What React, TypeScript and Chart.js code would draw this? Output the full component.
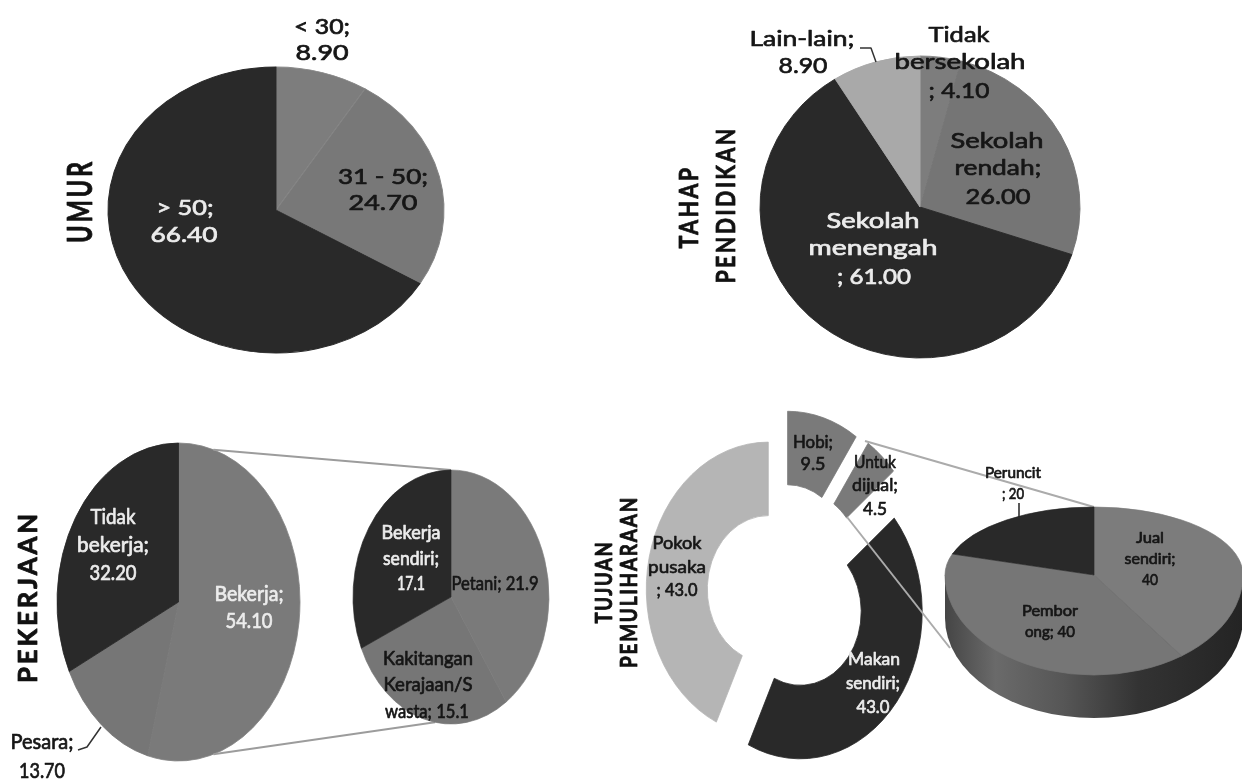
import React, { useEffect, useRef } from "react";
import { Chart, registerables } from "chart.js";

Chart.register(...registerables);

// ---- Survey values -------------------------------------------------------
const umurCategories = ["< 30", "31 - 50", "> 50"];
const umurValues = [8.9, 24.7, 66.4];

const tahapCategories = ["Tidak bersekolah", "Sekolah rendah", "Sekolah menengah", "Lain-lain"];
const tahapValues = [4.1, 26.0, 61.0, 8.9];

const pekerjaanCategories = ["Bekerja", "Pesara", "Tidak bekerja"];
const pekerjaanValues = [54.1, 13.7, 32.2];

const bekerjaCategories = ["Petani", "Kakitangan Kerajaan/Swasta", "Bekerja sendiri"];
const bekerjaValues = [21.9, 15.1, 17.1];

const tujuanCategories = ["Hobi", "Untuk dijual", "Makan sendiri", "Pokok pusaka"];
const tujuanValues = [9.5, 4.5, 43.0, 43.0];

const dijualCategories = ["Jual sendiri", "Pemborong", "Peruncit"];
const dijualValues = [40, 40, 20];

// ---- Drawing constants ---------------------------------------------------
const W = 1242;
const H = 780;
const BASE_R = 100;
const FONT = 'Lato, "Open Sans", sans-serif';
const DARK = "#292929";
const INK = "#161616";
const PALE = "#ececec";

type Row = [string, number, number, number];
type Label = { slice: number; digits: number; color: string; size: number; weight?: string; rows: Row[] };
type Title = { text: string; x: number; y: number; length: number; size: number };
type Leader = { color: string; width: number; points: number[][] };
type Panel = {
  kind: "pie" | "doughnut";
  categories: string[];
  values: number[];
  fills: string[];
  seams: string[];
  cx: number;
  cy: number;
  rx: number;
  ryTop: number;
  ryBottom: number;
  explode?: number[];
  wall?: { depth: number; stops: [number, string][] };
  labels: Label[];
  titles: Title[];
  leaders: Leader[];
};

// Point on the rim of an oval, clockwise from twelve o'clock.
const rim = (cx: number, cy: number, rx: number, ry: number, deg: number) => {
  const t = (deg * Math.PI) / 180;
  return [cx + rx * Math.sin(t), cy - ry * Math.cos(t)];
};

const panels: Panel[] = [
  {
    kind: "pie",
    categories: umurCategories,
    values: umurValues,
    fills: ["#7d7d7d", "#787878", DARK],
    seams: ["#8a8a8a", "#848484", DARK],
    cx: 276,
    cy: 210,
    rx: 168,
    ryTop: 143,
    ryBottom: 143,
    labels: [
      { slice: 0, digits: 2, color: INK, size: 21, rows: [["< 30;", 322, 27, 56], ["{v}", 322, 53, 53]] },
      { slice: 1, digits: 2, color: INK, size: 21, rows: [["31 - 50;", 383, 177, 90], ["{v}", 383, 203, 69]] },
      { slice: 2, digits: 2, color: PALE, size: 21, rows: [["> 50;", 185, 208, 57], ["{v}", 184, 235, 67]] },
    ],
    titles: [{ text: "UMUR", x: 81, y: 201, length: 84, size: 34 }],
    leaders: [],
  },
  {
    kind: "pie",
    categories: tahapCategories,
    values: tahapValues,
    fills: ["#7d7d7d", "#757575", DARK, "#a9a9a9"],
    seams: ["#8a8a8a", "#757575", DARK, "#a9a9a9"],
    cx: 920,
    cy: 207,
    rx: 160,
    ryTop: 151,
    ryBottom: 151,
    labels: [
      { slice: 0, digits: 2, color: INK, size: 22, rows: [["Tidak", 959, 35, 61], ["bersekolah", 960, 62, 131], ["; {v}", 959, 91, 61]] },
      { slice: 1, digits: 2, color: INK, size: 22, rows: [["Sekolah", 997, 141, 93], ["rendah;", 998, 168, 87], ["{v}", 998, 197, 65]] },
      { slice: 2, digits: 2, color: PALE, size: 22, rows: [["Sekolah", 873, 221, 93], ["menengah", 873, 248, 129], ["; {v}", 874, 277, 74]] },
      { slice: 3, digits: 2, color: INK, size: 22, rows: [["Lain-lain;", 802, 39, 105], ["{v}", 803, 66, 49]] },
    ],
    titles: [
      { text: "TAHAP", x: 689, y: 207, length: 83, size: 27 },
      { text: "PENDIDIKAN", x: 726, y: 205, length: 157, size: 27 },
    ],
    leaders: [{ color: "#333333", width: 1.5, points: [[860, 48], [871, 48], [876, 62]] }],
  },
  {
    kind: "pie",
    categories: pekerjaanCategories,
    values: pekerjaanValues,
    fills: ["#7a7a7a", "#767676", DARK],
    seams: ["#858585", "#767676", DARK],
    cx: 178.5,
    cy: 602,
    rx: 121.5,
    ryTop: 159,
    ryBottom: 159,
    labels: [
      { slice: 0, digits: 2, color: PALE, size: 21, rows: [["Bekerja;", 249, 594, 69], ["{v}", 249, 621, 47]] },
      { slice: 1, digits: 2, color: INK, size: 21, rows: [["Pesara;", 42, 742, 63], ["{v}", 42, 771, 46]] },
      { slice: 2, digits: 2, color: PALE, size: 21, rows: [["Tidak", 113, 517, 45], ["bekerja;", 113, 545, 72], ["{v}", 113, 573, 47]] },
    ],
    titles: [{ text: "PEKERJAAN", x: 28, y: 597, length: 172, size: 27 }],
    leaders: [
      {
        color: "#9c9c9c",
        width: 2,
        points: [rim(178.5, 602, 121.5, 159, 16.7), rim(451, 597, 98, 127, 0)],
      },
      {
        color: "#9c9c9c",
        width: 2,
        points: [rim(178.5, 602, 121.5, 159, 163.3), rim(451, 597, 98, 127, 189.4)],
      },
      { color: "#333333", width: 1.5, points: [[101, 727], [87, 747], [78, 750]] },
    ],
  },
  {
    kind: "pie",
    categories: bekerjaCategories,
    values: bekerjaValues,
    fills: ["#7a7a7a", "#767676", DARK],
    seams: ["#858585", "#767676", DARK],
    cx: 451,
    cy: 597,
    rx: 98,
    ryTop: 127,
    ryBottom: 127,
    labels: [
      { slice: 0, digits: 1, color: INK, size: 19, rows: [["Petani; {v}", 495, 584, 87]] },
      { slice: 1, digits: 1, color: INK, size: 19, rows: [["Kakitangan", 428, 659, 90], ["Kerajaan/S", 428, 685, 89], ["wasta; {v}", 427, 712, 84]] },
      { slice: 2, digits: 1, color: PALE, size: 19, rows: [["Bekerja", 411, 533, 59], ["sendiri;", 411, 559, 56], ["{v}", 411, 584, 28]] },
    ],
    titles: [],
    leaders: [],
  },
  {
    kind: "doughnut",
    categories: tujuanCategories,
    values: tujuanValues,
    fills: ["#7a7a7a", "#7a7a7a", DARK, "#b5b5b5"],
    seams: ["#7a7a7a", "#7a7a7a", DARK, "#b5b5b5"],
    cx: 779,
    cy: 592,
    rx: 122,
    ryTop: 147,
    ryBottom: 147,
    explode: [24, 25, 22, 9],
    labels: [
      { slice: 0, digits: 1, color: INK, size: 18, rows: [["Hobi;", 813, 442, 40], ["{v}", 813, 464, 25]] },
      { slice: 1, digits: 1, color: INK, size: 18, rows: [["Untuk", 875, 462, 42], ["dijual;", 875, 485, 46], ["{v}", 875, 509, 24]] },
      { slice: 2, digits: 1, color: PALE, size: 18, rows: [["Makan", 874, 659, 52], ["sendiri;", 873, 683, 54], ["{v}", 873, 707, 33]] },
      { slice: 3, digits: 1, color: INK, size: 18, rows: [["Pokok", 677, 543, 49], ["pusaka", 677, 567, 58], ["; {v}", 677, 590, 41]] },
    ],
    titles: [
      { text: "TUJUAN", x: 605, y: 582, length: 83, size: 22 },
      { text: "PEMULIHARAAN", x: 630, y: 582, length: 172, size: 22 },
    ],
    leaders: [
      { color: "#ababab", width: 2, points: [[865, 441], [1094, 507]] },
      { color: "#ababab", width: 2, points: [[847, 517], [950, 648]] },
    ],
  },
  {
    kind: "pie",
    categories: dijualCategories,
    values: dijualValues,
    fills: ["#7c7c7c", "#767676", DARK],
    seams: ["#7c7c7c", "#767676", DARK],
    cx: 1094,
    cy: 575,
    rx: 149,
    ryTop: 68,
    ryBottom: 100,
    wall: {
      depth: 43,
      stops: [
        [0, "#454545"],
        [0.17, "#6a6a6a"],
        [0.4, "#565656"],
        [0.65, "#333333"],
        [1, "#242424"],
      ],
    },
    labels: [
      { slice: 0, digits: 0, color: INK, size: 15, rows: [["Jual", 1150, 538, 28], ["sendiri;", 1150, 559, 51], ["{v}", 1150, 580, 16]] },
      { slice: 1, digits: 0, color: INK, size: 15, rows: [["Pembor", 1050, 611, 56], ["ong; {v}", 1050, 632, 50]] },
      { slice: 2, digits: 0, color: INK, size: 15, rows: [["Peruncit", 1013, 473, 56], ["; {v}", 1013, 494, 22]] },
    ],
    titles: [],
    leaders: [{ color: "#222222", width: 1.5, points: [[1019, 503], [1019, 517]] }],
  },
];

// Writes one line of text stretched to a given width, thickened by a thin outline.
function fitText(ctx: CanvasRenderingContext2D, text: string, x: number, y: number, width: number, heavy: number, angle = 0) {
  ctx.save();
  ctx.translate(x, y);
  ctx.rotate(angle);
  ctx.scale(width / ctx.measureText(text).width, 1);
  ctx.fillText(text, 0, 0);
  ctx.lineWidth = heavy;
  ctx.strokeStyle = ctx.fillStyle;
  ctx.strokeText(text, 0, 0);
  ctx.restore();
}

// Paints the slices as ovals (with separate upper and lower radii for the
// tilted pie), pulls exploded slices outward, then adds leaders and text.
function ovalPlugin(p: Panel) {
  return {
    id: "ovalPie",
    beforeDatasetDraw(chart: any, args: any) {
      const ctx: CanvasRenderingContext2D = chart.ctx;
      const arcs = args.meta.data;
      if (p.wall) {
        const gradient = ctx.createLinearGradient(p.cx - p.rx, 0, p.cx + p.rx, 0);
        p.wall.stops.forEach(([at, color]) => gradient.addColorStop(at, color));
        ctx.beginPath();
        ctx.moveTo(p.cx - p.rx, p.cy);
        ctx.lineTo(p.cx - p.rx, p.cy + p.wall.depth);
        ctx.ellipse(p.cx, p.cy + p.wall.depth, p.rx, p.ryBottom, 0, Math.PI, 0, true);
        ctx.lineTo(p.cx + p.rx, p.cy);
        ctx.closePath();
        ctx.fillStyle = gradient;
        ctx.fill();
      }
      const paint = (ry: number) => {
        ctx.translate(p.cx, p.cy);
        ctx.scale(p.rx / BASE_R, ry / BASE_R);
        ctx.translate(-p.cx, -p.cy);
        arcs.forEach((arc: any, i: number) => {
          const shift = p.explode ? p.explode[i] : 0;
          const mid = (arc.startAngle + arc.endAngle) / 2;
          ctx.save();
          ctx.translate(Math.cos(mid) * shift, Math.sin(mid) * shift);
          arc.draw(ctx);
          ctx.restore();
        });
      };
      ctx.save();
      if (p.ryTop !== p.ryBottom) {
        ctx.beginPath();
        ctx.rect(0, 0, W, p.cy + 0.5);
        ctx.clip();
      }
      paint(p.ryTop);
      ctx.restore();
      if (p.ryTop !== p.ryBottom) {
        ctx.save();
        ctx.beginPath();
        ctx.rect(0, p.cy, W, H - p.cy);
        ctx.clip();
        paint(p.ryBottom);
        ctx.restore();
      }
      return false;
    },
    afterDraw(chart: any) {
      const ctx: CanvasRenderingContext2D = chart.ctx;
      ctx.save();
      ctx.lineJoin = "round";
      p.leaders.forEach((leader) => {
        ctx.beginPath();
        leader.points.forEach(([x, y], i) => (i ? ctx.lineTo(x, y) : ctx.moveTo(x, y)));
        ctx.strokeStyle = leader.color;
        ctx.lineWidth = leader.width;
        ctx.stroke();
      });
      ctx.textAlign = "center";
      ctx.textBaseline = "middle";
      p.labels.forEach((label) => {
        const value = p.values[label.slice].toFixed(label.digits);
        ctx.font = `${label.weight || "normal"} ${label.size}px ${FONT}`;
        ctx.fillStyle = label.color;
        label.rows.forEach(([template, x, y, width]) =>
          fitText(ctx, template.replace("{v}", value), x, y, width, 0.7)
        );
      });
      ctx.fillStyle = "#111111";
      p.titles.forEach((title) => {
        ctx.font = `bold ${title.size}px ${FONT}`;
        (ctx as any).letterSpacing = `${Math.round(title.size / 9)}px`;
        fitText(ctx, title.text, title.x, title.y, title.length, 0.8, -Math.PI / 2);
      });
      ctx.restore();
    },
  };
}

function PiePanel({ panel }: { panel: Panel }) {
  const ref = useRef<HTMLCanvasElement>(null);
  useEffect(() => {
    const chart = new Chart(ref.current as HTMLCanvasElement, {
      type: panel.kind,
      data: {
        labels: panel.categories,
        datasets: [
          {
            data: panel.values,
            backgroundColor: panel.fills,
            borderColor: panel.seams,
            borderWidth: 0.6,
          },
        ],
      },
      options: {
        responsive: false,
        animation: false,
        events: [],
        devicePixelRatio: 1,
        radius: BASE_R,
        cutout: panel.kind === "doughnut" ? "50%" : 0,
        layout: {
          padding: {
            left: panel.cx - BASE_R,
            right: W - panel.cx - BASE_R,
            top: panel.cy - BASE_R,
            bottom: H - panel.cy - BASE_R,
          },
        },
        plugins: { legend: { display: false }, tooltip: { enabled: false } },
      } as any,
      plugins: [ovalPlugin(panel)],
    } as any);
    return () => chart.destroy();
  }, [panel]);
  return <canvas ref={ref} width={W} height={H} style={{ position: "absolute", left: 0, top: 0 }} />;
}

export default function App() {
  return (
    <div style={{ position: "fixed", left: 0, top: 0, width: W, height: H, background: "#ffffff", overflow: "hidden" }}>
      {panels.map((panel, i) => (
        <PiePanel key={i} panel={panel} />
      ))}
    </div>
  );
}
